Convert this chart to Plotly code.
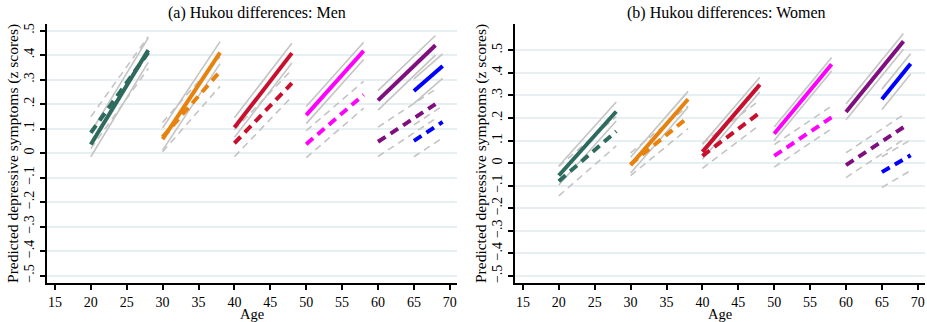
import plotly.graph_objects as go

# ---- data ----
start_age = [20, 30, 40, 50, 60, 65]
end_age = [28, 38, 48, 58, 68, 69]
colors = ["#2e6b5e", "#e8820e", "#c8102e", "#ff00ff", "#7f0f7e", "#0000ff"]

men_solid_start = [0.035, 0.057, 0.104, 0.155, 0.215, 0.253]
men_solid_end = [0.420, 0.410, 0.408, 0.417, 0.440, 0.355]
men_dash_start = [0.083, 0.065, 0.040, 0.036, 0.046, 0.050]
men_dash_end = [0.410, 0.333, 0.285, 0.238, 0.200, 0.127]
men_solid_ci = [0.050, 0.045, 0.040, 0.035, 0.040, 0.050]
men_dash_ci = [0.065, 0.060, 0.055, 0.055, 0.060, 0.065]

women_solid_start = [-0.055, -0.009, 0.050, 0.130, 0.227, 0.283]
women_solid_end = [0.229, 0.283, 0.348, 0.438, 0.540, 0.440]
women_dash_start = [-0.080, -0.005, 0.032, 0.032, -0.009, -0.040]
women_dash_end = [0.141, 0.203, 0.224, 0.203, 0.159, 0.035]
women_solid_ci = [0.042, 0.035, 0.033, 0.030, 0.035, 0.045]
women_dash_ci = [0.065, 0.050, 0.055, 0.050, 0.055, 0.068]

x_ticks = [15, 20, 25, 30, 35, 40, 45, 50, 55, 60, 65, 70]
y_ticks = [-0.5, -0.4, -0.3, -0.2, -0.1, 0, 0.1, 0.2, 0.3, 0.4, 0.5]
y_ticktext = ["\u2212.5", "\u2212.4", "\u2212.3", "\u2212.2", "\u2212.1", "0", ".1", ".2", ".3", ".4", ".5"]

W, H = 927, 322
FONT = "Liberation Serif, Times New Roman, serif"
GRAY = "#c4c4c4"

fig = go.Figure()


def add_panel(xa, ya, s_start, s_end, d_start, d_end, s_ci, d_ci):
    for i in range(len(start_age)):
        xs = [start_age[i], end_age[i]]
        # CI lines
        for sgn in (-1, 1):
            fig.add_trace(go.Scatter(x=xs, y=[s_start[i] + sgn * s_ci[i], s_end[i] + sgn * s_ci[i]],
                                     mode="lines", line=dict(color=GRAY, width=1.6),
                                     xaxis=xa, yaxis=ya, showlegend=False, hoverinfo="skip"))
            fig.add_trace(go.Scatter(x=xs, y=[d_start[i] + sgn * d_ci[i], d_end[i] + sgn * d_ci[i]],
                                     mode="lines", line=dict(color=GRAY, width=1.6, dash="7px,5px"),
                                     xaxis=xa, yaxis=ya, showlegend=False, hoverinfo="skip"))
    for i in range(len(start_age)):
        xs = [start_age[i], end_age[i]]
        fig.add_trace(go.Scatter(x=xs, y=[d_start[i], d_end[i]], mode="lines",
                                 line=dict(color=colors[i], width=4, dash="9px,6px"),
                                 xaxis=xa, yaxis=ya, showlegend=False))
        fig.add_trace(go.Scatter(x=xs, y=[s_start[i], s_end[i]], mode="lines",
                                 line=dict(color=colors[i], width=4),
                                 xaxis=xa, yaxis=ya, showlegend=False))


add_panel("x", "y", men_solid_start, men_solid_end, men_dash_start, men_dash_end, men_solid_ci, men_dash_ci)
add_panel("x2", "y2", women_solid_start, women_solid_end, women_dash_start, women_dash_end, women_solid_ci, women_dash_ci)

ydom = [1 - 286.7 / H, 1 - 24 / H]
xcommon = dict(range=[13.9, 71.0], tickvals=x_ticks, ticks="outside", ticklen=5, tickwidth=1.5,
               tickcolor="black", showline=True, linecolor="black", linewidth=2, showgrid=False,
               zeroline=False, tickfont=dict(family=FONT, size=14, color="black"),
               title=dict(text="Age", font=dict(family=FONT, size=14.5, color="black"), standoff=2))
ycommon = dict(tickvals=y_ticks, ticktext=y_ticktext, tickangle=-90, ticks="outside", ticklen=5,
               tickwidth=1.5, tickcolor="black", showline=True, linecolor="black", linewidth=2,
               showgrid=True, gridcolor="#e6eff1", gridwidth=2, zeroline=False,
               tickfont=dict(family=FONT, size=14, color="black"),
               title=dict(text="Predicted depressive symptoms (z scores)",
                          font=dict(family=FONT, size=15.5, color="black"), standoff=0))

fig.update_layout(
    width=W, height=H, margin=dict(l=0, r=0, t=0, b=0),
    paper_bgcolor="white", plot_bgcolor="white",
    xaxis=dict(domain=[47 / W, 457 / W], anchor="y", **xcommon),
    yaxis=dict(domain=ydom, anchor="x", range=[-0.531, 0.528], **ycommon),
    xaxis2=dict(domain=[515 / W, 925 / W], anchor="y2", **xcommon),
    yaxis2=dict(domain=ydom, anchor="x2", range=[-0.532, 0.618], **ycommon),
    annotations=[
        dict(text="(a) Hukou differences: Men", x=257 / W, y=1 - 13 / H, xref="paper", yref="paper",
             showarrow=False, xanchor="center", yanchor="middle",
             font=dict(family=FONT, size=16, color="black")),
        dict(text="(b) Hukou differences: Women", x=726 / W, y=1 - 13 / H, xref="paper", yref="paper",
             showarrow=False, xanchor="center", yanchor="middle",
             font=dict(family=FONT, size=16, color="black")),
    ],
)

fig.write_html("out.html", config={"displayModeBar": False},
               post_script="document.body.style.margin='0';document.body.style.overflow='hidden';")
